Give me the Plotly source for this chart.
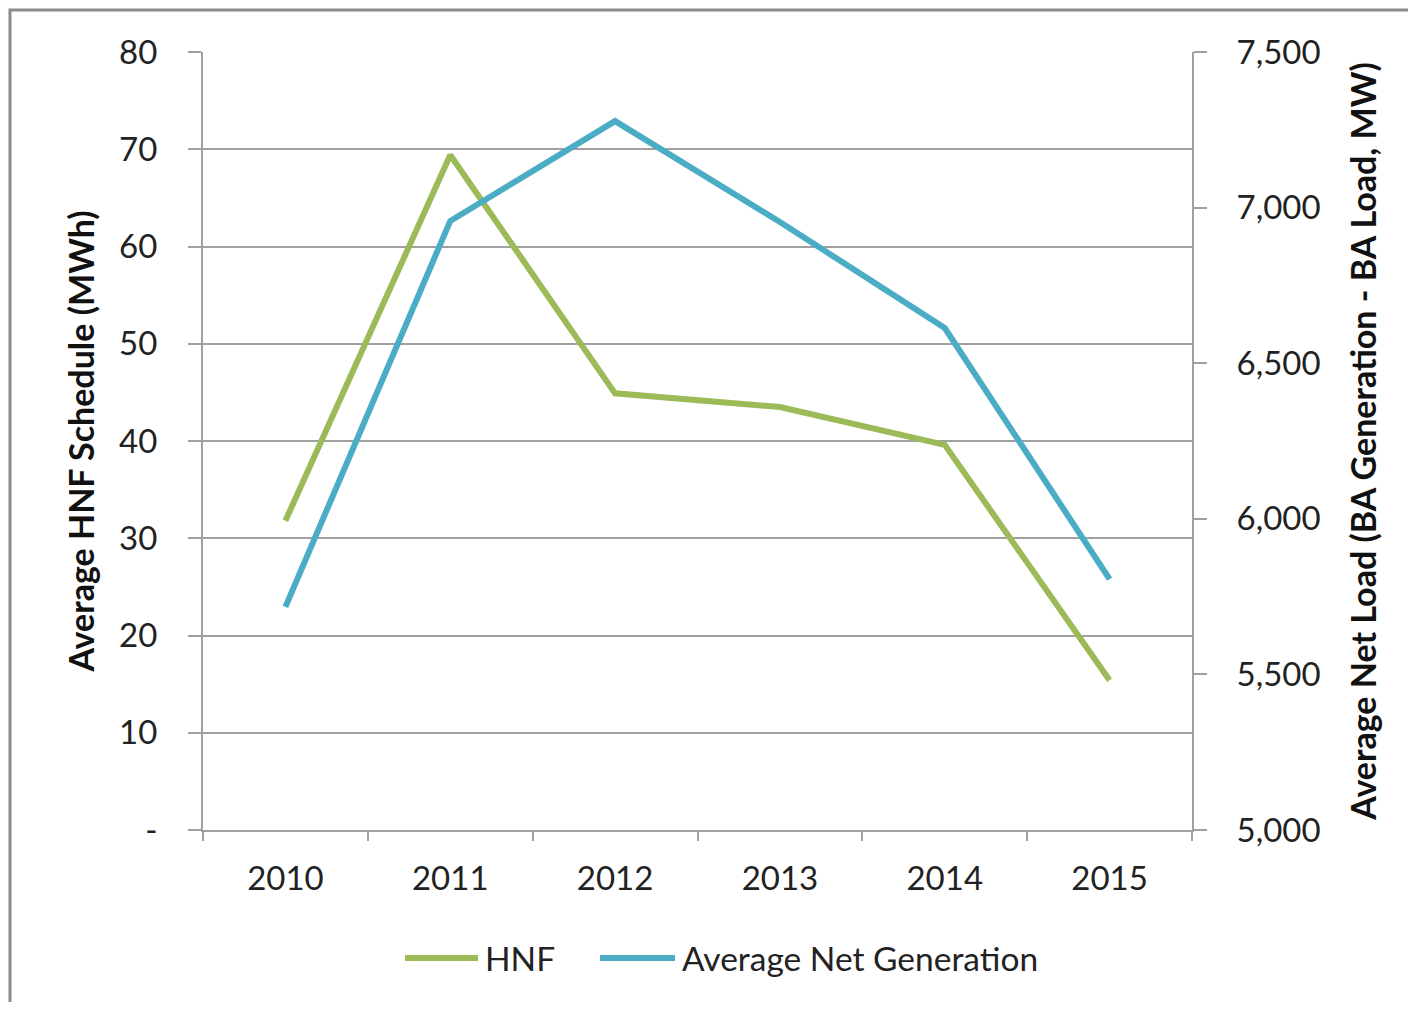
import plotly.graph_objects as go

years = ["2010", "2011", "2012", "2013", "2014", "2015"]
hnf = [31.8, 69.4, 44.9, 43.5, 39.6, 15.4]
net_gen = [5717, 6957, 7278, 6954, 6613, 5806]
left_ticks = [0, 10, 20, 30, 40, 50, 60, 70, 80]
left_ticktext = ["-", "10", "20", "30", "40", "50", "60", "70", "80"]
right_ticks = [5000, 5500, 6000, 6500, 7000, 7500]
series_names = ["HNF", "Average Net Generation"]

GREEN = "#9BBB59"
BLUE = "#4BACC6"
GRID = "#a0a0a0"
FONT = "Lato"
TXT = "#222222"

fig = go.Figure()
fig.add_trace(go.Scatter(x=years, y=hnf, name=series_names[0], mode="lines",
                         line=dict(color=GREEN, width=6), yaxis="y", showlegend=False))
fig.add_trace(go.Scatter(x=years, y=net_gen, name=series_names[1], mode="lines",
                         line=dict(color=BLUE, width=6), yaxis="y2", showlegend=False))

OFF = 8  # default body margin of the page
W, H = 1416 - 2 * OFF, 1010 - 2 * OFF
L, R, T, B = 203 - OFF, 1192 - OFF, 52 - OFF, 830 - OFF

def px(x):  # page pixel x -> paper
    return (x - OFF - L) / (R - L)

def py(y):  # page pixel y -> paper
    return (B - (y - OFF)) / (B - T)

fig.update_layout(
    width=W, height=H,
    margin=dict(l=L, r=W - R, t=T, b=H - B, autoexpand=False),
    paper_bgcolor="white", plot_bgcolor="white",
    font=dict(family=FONT, size=32, color=TXT),
    xaxis=dict(type="category", range=[-0.5, 5.5], showgrid=False, showline=True,
               linecolor=GRID, linewidth=2,
               ticks="outside", tickson="boundaries", ticklen=9, tickcolor=GRID, tickwidth=2,
               tickfont=dict(size=33, family=FONT, color=TXT), ticklabelstandoff=18,
               zeroline=False),
    yaxis=dict(range=[0, 80], tickvals=left_ticks, ticktext=left_ticktext,
               showgrid=True, gridcolor=GRID, gridwidth=2, showline=True, linecolor=GRID,
               linewidth=2, ticks="outside", ticklen=13, tickcolor=GRID, tickwidth=2,
               tickfont=dict(size=33, family=FONT, color=TXT), ticklabelstandoff=24,
               zeroline=False,
               title=dict(text="<b>Average HNF Schedule (MWh)</b>", standoff=14,
                          font=dict(size=34, family=FONT, color="#111111"))),
    yaxis2=dict(range=[5000, 7500], tickvals=right_ticks, tickformat=",", overlaying="y",
                side="right", showgrid=False, showline=True, linecolor=GRID, linewidth=2,
                ticks="outside", ticklen=13, tickcolor=GRID, tickwidth=2,
                tickfont=dict(size=33, family=FONT, color=TXT), ticklabelstandoff=23,
                zeroline=False,
                title=dict(text="<b>Average Net Load (BA Generation - BA Load, MW)</b>",
                           standoff=33, font=dict(size=34, family=FONT, color="#111111"))),
)

# outer chart frame
fig.add_shape(type="rect", xref="paper", yref="paper",
              x0=px(10), x1=1.5, y0=-0.5, y1=py(10),
              line=dict(color="#8c8c8c", width=3), layer="below")

# legend (swatch + label), laid out like the reference
legend_items = [
    (series_names[0], GREEN, 405, 478),
    (series_names[1], BLUE, 600, 675),
]
leg_y = py(958)
for name, color, x0, x1 in legend_items:
    fig.add_shape(type="line", xref="paper", yref="paper",
                  x0=px(x0), x1=px(x1), y0=leg_y, y1=leg_y,
                  line=dict(color=color, width=6))
    fig.add_annotation(xref="paper", yref="paper", x=px(x1 + 5), y=leg_y,
                       xanchor="left", yanchor="middle", showarrow=False, text=name,
                       font=dict(size=33.5, family=FONT, color=TXT))

fig.write_html("out.html")
